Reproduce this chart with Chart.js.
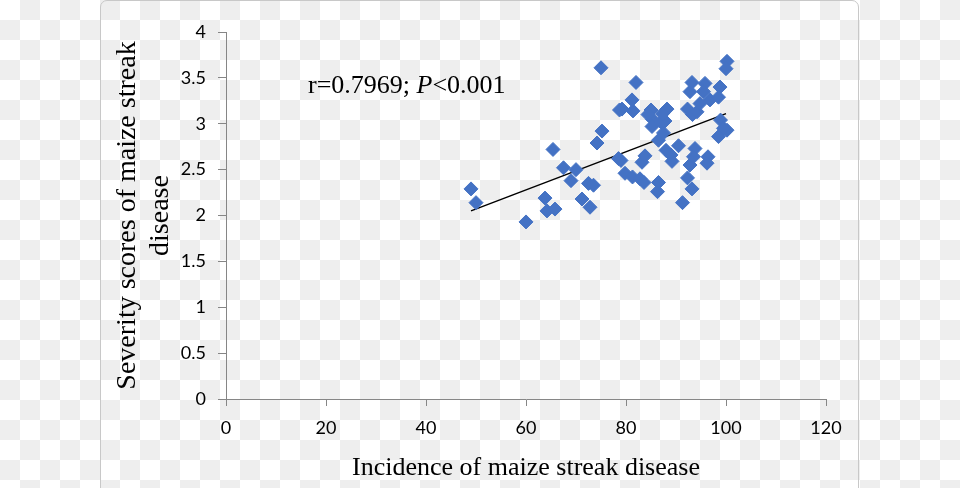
<!DOCTYPE html>
<html lang="en">
<head>
  <meta charset="UTF-8" />
  <title>Maize streak disease</title>
  <script src="https://cdn.jsdelivr.net/npm/chart.js"></script>
  <style>
    html, body { margin: 0; padding: 0; }
    body {
      width: 960px; height: 488px; overflow: hidden; position: relative;
      background: repeating-conic-gradient(#eeeeee 0% 25%, #ffffff 0% 50%) 0 0 / 40px 40px;
    }
    .card {
      position: absolute; left: 100px; top: 0; width: 759px; height: 520px;
      border: 1px solid #c8c8c8; border-radius: 7px; box-sizing: border-box;
    }
    canvas { position: absolute; left: 0; top: 0; }
  </style>
</head>
<body>
  <div class="card"></div>
  <canvas id="scatterChart" width="960" height="488"></canvas>

  <script>
    // incidence (%) and severity score of each field
    const incidence = [49.0, 50.0, 60.0, 63.8, 64.2, 65.8, 65.4, 67.5, 69.0, 70.0,
      71.2, 72.8, 72.5, 73.5, 74.2, 75.2, 75.0, 78.5, 79.0, 79.2,
      79.8, 81.2, 81.4, 82.0, 81.3, 82.8, 83.2, 83.6, 83.8, 85.0,
      85.3, 85.2, 86.3, 86.5, 86.5, 87.0, 87.5, 88.2, 87.8, 88.0,
      89.2, 89.0, 90.5, 91.3, 92.3, 92.3, 92.8, 93.3, 93.2, 92.8,
      93.2, 93.8, 93.5, 94.2, 94.8, 95.8, 96.4, 96.2, 95.5, 96.8,
      98.8, 98.5, 98.9, 100.2, 100.0, 100.2, 98.5, 99.5, 87.3, 84.4, 78.7];
    const severity = [2.29, 2.14, 1.93, 2.19, 2.05, 2.07, 2.72, 2.52, 2.38, 2.50,
      2.18, 2.09, 2.35, 2.33, 2.79, 2.92, 3.61, 2.62, 2.60, 3.16,
      2.46, 3.26, 3.14, 3.45, 2.42, 2.40, 2.58, 2.36, 2.65, 3.15,
      3.05, 2.97, 2.26, 2.36, 2.82, 3.02, 2.90, 3.16, 3.03, 2.71,
      2.59, 2.66, 2.76, 2.14, 3.16, 2.41, 3.35, 3.10, 3.45, 2.55,
      2.29, 2.73, 2.64, 3.13, 3.22, 3.44, 2.64, 2.57, 3.35, 3.26,
      3.40, 3.29, 3.04, 3.68, 3.60, 2.93, 2.86, 2.95, 3.11, 3.10, 3.15];

    // linear trend line end points
    const trendX = [49, 100];
    const trendY = [2.05, 3.11];

    const xTicks = [0, 20, 40, 60, 80, 100, 120];
    const yTicks = [0, 0.5, 1, 1.5, 2, 2.5, 3, 3.5, 4];

    const axisGray = '#868686';
    const tickFont = { family: 'Lato', size: 18 };

    const statsLabel = {
      id: 'statsLabel',
      afterDraw(chart) {
        const ctx = chart.ctx;
        ctx.save();
        ctx.fillStyle = '#000';
        ctx.textBaseline = 'middle';
        let x = 308;
        const y = 86;
        const parts = [['r=0.7969; ', ''], ['P', 'italic '], ['<0.001', '']];
        parts.forEach(([txt, style]) => {
          ctx.font = style + '26px "Liberation Serif"';
          ctx.fillText(txt, x, y);
          x += ctx.measureText(txt).width;
        });
        ctx.restore();
      }
    };

    new Chart(document.getElementById('scatterChart'), {
      type: 'scatter',
      data: {
        datasets: [{
          label: 'Fields',
          data: incidence.map((v, i) => ({ x: v, y: severity[i] })),
          pointStyle: 'rectRot',
          pointRadius: 7,
          backgroundColor: '#4472C4',
          borderColor: '#4472C4',
          borderWidth: 1
        }, {
          type: 'line',
          label: 'Trend',
          data: trendX.map((v, i) => ({ x: v, y: trendY[i] })),
          borderColor: '#000',
          borderWidth: 1.5,
          pointRadius: 0,
          fill: false
        }]
      },
      options: {
        responsive: false,
        animation: false,
        devicePixelRatio: 1,
        layout: { padding: { left: 100, right: 134, top: 32, bottom: 0 } },
        plugins: { legend: { display: false }, tooltip: { enabled: false } },
        scales: {
          x: {
            type: 'linear', min: 0, max: 120,
            afterBuildTicks: s => { s.ticks = xTicks.map(v => ({ value: v })); },
            afterFit: s => { s.height = 89; },
            ticks: { font: tickFont, color: '#000', padding: 11, callback: v => String(v) },
            grid: { drawOnChartArea: false, tickLength: 7, color: axisGray },
            border: { color: axisGray },
            title: {
              display: true,
              text: 'Incidence of maize streak disease',
              color: '#000',
              font: { family: 'Liberation Serif', size: 26, lineHeight: 1.2 },
              padding: { top: 0, bottom: 4 }
            }
          },
          y: {
            type: 'linear', min: 0, max: 4,
            afterBuildTicks: s => { s.ticks = yTicks.map(v => ({ value: v })); },
            afterFit: s => { s.width = 126; },
            ticks: { font: tickFont, color: '#000', padding: 12, callback: v => String(v) },
            grid: { drawOnChartArea: false, tickLength: 8, color: axisGray },
            border: { color: axisGray },
            title: {
              display: true,
              text: ['Severity scores of maize streak', 'disease'],
              color: '#000',
              font: { family: 'Liberation Serif', size: 28, lineHeight: 1.18 },
              padding: { top: 11, bottom: 0 }
            }
          }
        }
      },
      plugins: [statsLabel]
    });
  </script>
</body>
</html>
